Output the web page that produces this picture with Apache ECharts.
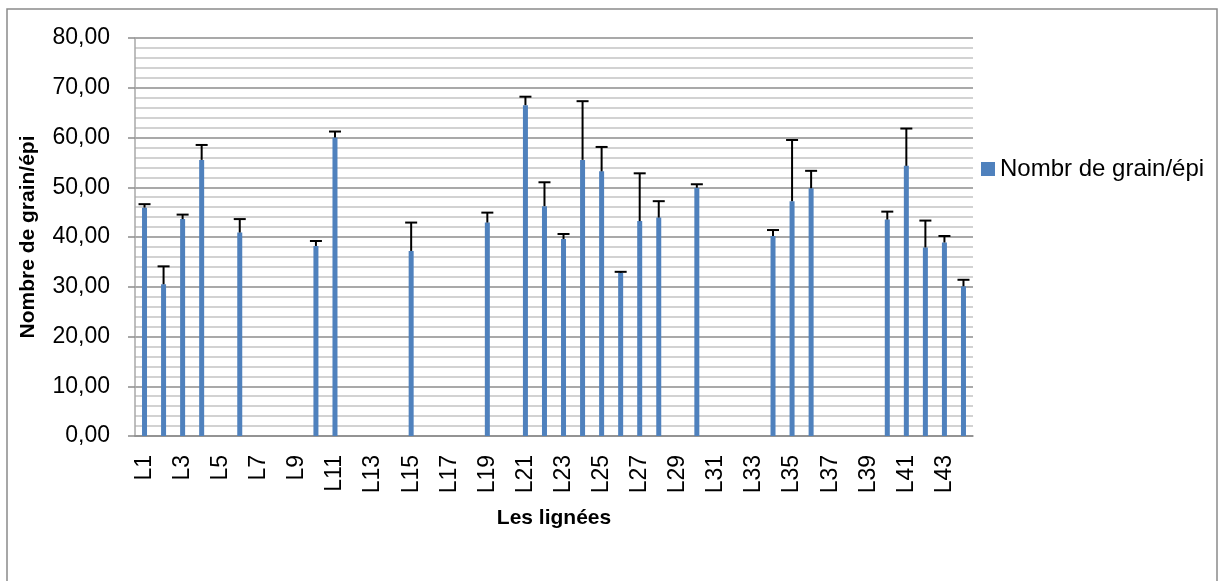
<!DOCTYPE html>
<html>
<head>
<meta charset="utf-8">
<title>Nombre de grain/épi</title>
<script src="https://cdn.jsdelivr.net/npm/echarts@6/dist/echarts.min.js"></script>
<style>
  html, body { margin: 0; padding: 0; background: #fff; }
  #chart { width: 1219px; height: 581px; }
</style>
</head>
<body>
<div id="chart"></div>
<script>
// les lignées L1 .. L44
var categories = []
for (var i = 1; i <= 44; i++) categories.push('L' + i)

// moyenne par lignée (null = pas de barre)
var grainValues = [
  45.9, 30.5, 43.6, 55.5, null, 40.9, null, null, null, 38.2,
  60.0, null, null, null, 37.2, null, null, null, 42.9, null,
  66.5, 46.2, 39.6, 55.5, 53.2, 32.8, 43.2, 43.9, null, 49.9,
  null, null, null, 40.2, 47.2, 49.8, null, null, null, 43.5,
  54.3, 37.9, 38.9, 30.1
]
// écart (barre d'erreur vers le haut)
var grainErrors = [
  0.7, 3.6, 0.9, 3.0, null, 2.7, null, null, null, 1.0,
  1.2, null, null, null, 5.7, null, null, null, 2.0, null,
  1.7, 4.8, 1.0, 11.8, 4.9, 0.2, 9.6, 3.3, null, 0.7,
  null, null, null, 1.2, 12.3, 3.5, null, null, null, 1.6,
  7.5, 5.4, 1.3, 1.3
]
var seriesName = 'Nombr de grain/épi'

var errData = []
grainValues.forEach(function (v, i) {
  if (v != null) errData.push([i, v, v + grainErrors[i]])
})

var chart = echarts.init(document.getElementById('chart'))
var font = '"Liberation Sans", Arial, sans-serif'

var option = {
  animation: false,
  textStyle: { fontFamily: font },
  graphic: [{
    type: 'rect',
    shape: { x: 7, y: 9, width: 1210, height: 590 },
    style: { fill: 'none', stroke: '#8a8a8a', lineWidth: 1.5 },
    silent: true
  }],
  legend: {
    data: [{ name: seriesName, icon: 'rect' }],
    left: 976,
    top: 152,
    itemWidth: 14,
    itemHeight: 14,
    itemGap: 6,
    textStyle: { fontSize: 24, color: '#000', fontFamily: font }
  },
  grid: {
    left: 135,
    right: 246,
    top: 38,
    bottom: 145
  },
  xAxis: {
    type: 'category',
    data: categories,
    name: 'Les lignées',
    nameLocation: 'middle',
    nameGap: 72,
    nameTextStyle: { fontSize: 21, fontWeight: 'bold', color: '#000', fontFamily: font },
    axisLine: { lineStyle: { color: '#8c8c8c', width: 1.5 } },
    axisTick: { show: false },
    axisLabel: {
      interval: 1,
      rotate: 90,
      margin: 19,
      fontSize: 23,
      color: '#000',
      fontFamily: font
    },
    splitLine: { show: false }
  },
  yAxis: {
    type: 'value',
    min: 0,
    max: 80,
    interval: 10,
    name: 'Nombre de grain/épi',
    nameLocation: 'middle',
    nameGap: 96,
    nameTextStyle: { fontSize: 21, fontWeight: 'bold', color: '#000', fontFamily: font },
    axisLine: { show: true, lineStyle: { color: '#a8a8a8', width: 1.5 } },
    axisTick: { show: true, length: 7, lineStyle: { color: '#8c8c8c', width: 1.5 } },
    axisLabel: {
      margin: 25,
      fontSize: 23,
      color: '#000',
      fontFamily: font,
      formatter: function (v) { return v.toFixed(2).replace('.', ',') }
    },
    splitLine: { lineStyle: { color: '#8c8c8c', width: 1.5 } },
    minorTick: { show: false, splitNumber: 5 },
    minorSplitLine: { show: true, lineStyle: { color: '#c4c4c4', width: 1.5 } }
  },
  series: [
    {
      name: seriesName,
      type: 'bar',
      data: grainValues,
      barWidth: 5,
      itemStyle: { color: '#4f81bd' }
    },
    {
      name: 'erreur',
      type: 'custom',
      data: errData,
      z: 5,
      encode: { x: 0, y: [1, 2] },
      renderItem: function (params, api) {
        var idx = api.value(0)
        var lo = api.coord([idx, api.value(1)])
        var hi = api.coord([idx, api.value(2)])
        var half = 6
        var style = { stroke: '#000', lineWidth: 2 }
        return {
          type: 'group',
          children: [
            { type: 'line', shape: { x1: lo[0], y1: lo[1], x2: hi[0], y2: hi[1] }, style: style },
            { type: 'line', shape: { x1: hi[0] - half, y1: hi[1], x2: hi[0] + half, y2: hi[1] }, style: style }
          ]
        }
      }
    }
  ]
}

chart.setOption(option)
window.addEventListener('resize', function () { chart.resize() })
</script>
</body>
</html>
